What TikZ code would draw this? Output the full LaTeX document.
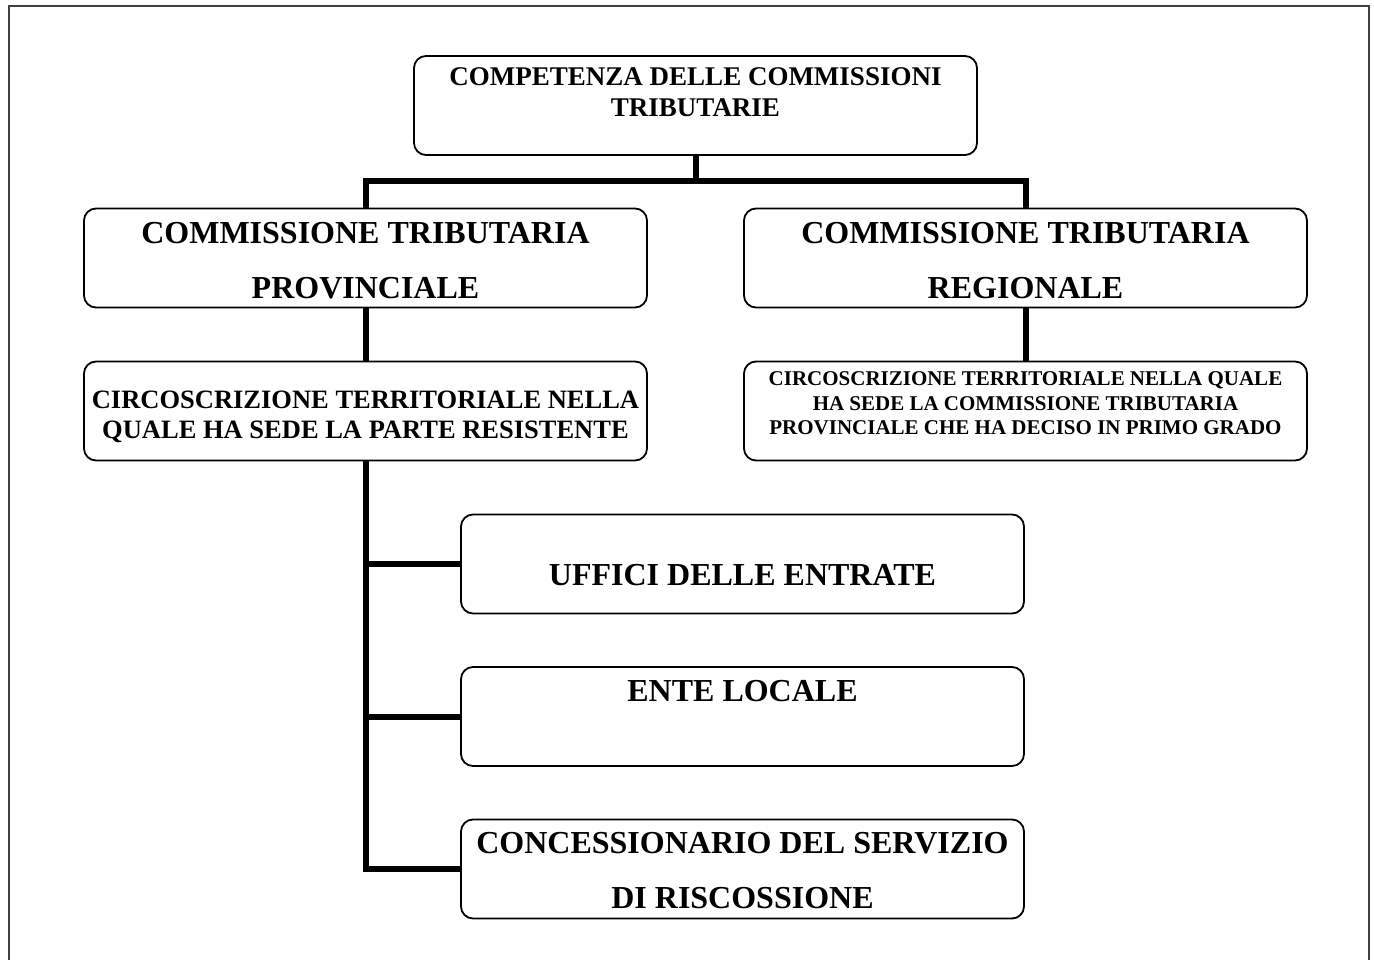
\documentclass[tikz,border=0pt]{standalone}
\usepackage{fontspec}
\setmainfont{Liberation Serif}
\begin{document}
\begin{tikzpicture}[x=1pt,y=-1pt,
  box/.style={draw=black, line width=1.8pt, rounded corners=12pt,
    minimum width=563pt, minimum height=99pt, inner sep=0pt, fill=white},
  txt/.style={inner sep=0pt, align=center, font=\bfseries},
  link/.style={line width=6pt, line join=miter, line cap=butt}]
\useasboundingbox (0,0) rectangle (1374,960);
% outer frame
\draw[line width=2pt, black!75] (8.5,962) -- (8.5,6.5) -- (1368.5,6.5) -- (1368.5,962);

% boxes
\node[box] (top)  at (695.5,105.5) {};
\node[box] (prov) at (365.5,258)   {};
\node[box] (reg)  at (1025.5,258)  {};
\node[box] (cpr)  at (365.5,411)   {};
\node[box] (creg) at (1025.5,411)  {};
\node[box] (uff)  at (742.5,564)   {};
\node[box] (ente) at (742.5,716.5) {};
\node[box] (conc) at (742.5,869)   {};

% labels
\node[txt, font=\bfseries\fontsize{27}{31}\selectfont] (ttop) at (695.5,92.5)
  {COMPETENZA DELLE COMMISSIONI\\TRIBUTARIE};
\node[txt, font=\bfseries\fontsize{32}{55}\selectfont] (tprov) at (365.5,260.5)
  {COMMISSIONE TRIBUTARIA\\PROVINCIALE};
\node[txt, font=\bfseries\fontsize{32}{55}\selectfont] (treg) at (1025.5,260.5)
  {COMMISSIONE TRIBUTARIA\\REGIONALE};
\node[txt, font=\bfseries\fontsize{26.5}{30}\selectfont] (tcpr) at (365.5,417)
  {CIRCOSCRIZIONE TERRITORIALE NELLA\\QUALE HA SEDE LA PARTE RESISTENTE};
\node[txt, font=\bfseries\fontsize{21}{24.5}\selectfont] (tcreg) at (1025.5,403.5)
  {CIRCOSCRIZIONE TERRITORIALE NELLA QUALE\\HA SEDE LA COMMISSIONE TRIBUTARIA\\PROVINCIALE CHE HA DECISO IN PRIMO GRADO};
\node[txt, font=\bfseries\fontsize{32}{55}\selectfont] (tuff) at (742.5,575)
  {UFFICI DELLE ENTRATE};
\node[txt, font=\bfseries\fontsize{32}{55}\selectfont] (tente) at (742.5,691)
  {ENTE LOCALE};
\node[txt, font=\bfseries\fontsize{32}{55}\selectfont] (tconc) at (742.5,870.5)
  {CONCESSIONARIO DEL SERVIZIO\\DI RISCOSSIONE};

% connectors
\coordinate (jL) at (366,181);
\coordinate (jR) at (1026,181);
\begin{scope}[on background layer/.try]
\draw[link] (top.south) -- (top.south |- jL);
\draw[link] ([xshift=-3pt]jL) -- ([xshift=3pt]jR);
\draw[link] (jL) -- (jL |- prov.north);
\draw[link] (jR) -- (jR |- reg.north);
\draw[link] (prov.south -| jL) -- (cpr.north -| jL);
\draw[link] (reg.south -| jR) -- (creg.north -| jR);
\draw[link] (cpr.south -| jL) -- (conc.west -| jL) -- (conc.west);
\draw[link] (uff.west -| jL) -- (uff.west);
\draw[link] (ente.west -| jL) -- (ente.west);
\end{scope}
\end{tikzpicture}
\end{document}
